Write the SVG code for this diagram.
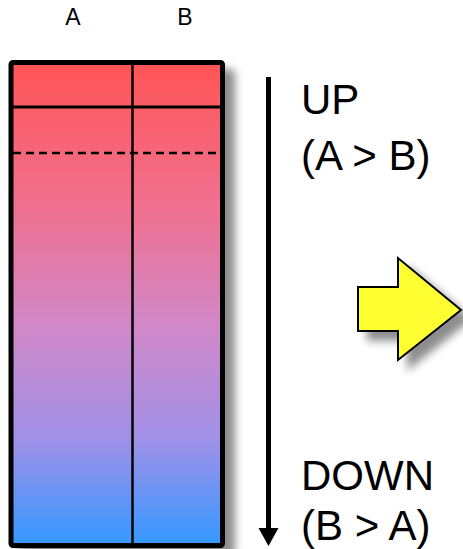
<svg xmlns="http://www.w3.org/2000/svg" width="463" height="549" viewBox="0 0 463 549">
  <defs>
    <linearGradient id="bar" x1="0" y1="0" x2="0" y2="1">
      <stop offset="0" stop-color="#FF5555"/>
      <stop offset="0.3" stop-color="#F07090"/>
      <stop offset="0.55" stop-color="#D088C8"/>
      <stop offset="0.78" stop-color="#A090E8"/>
      <stop offset="1" stop-color="#3399FF"/>
    </linearGradient>
    <filter id="shadow" x="-20%" y="-20%" width="150%" height="150%">
      <feGaussianBlur in="SourceAlpha" stdDeviation="4.5"/>
      <feOffset dx="10" dy="9" result="b"/>
      <feComponentTransfer><feFuncA type="linear" slope="0.45"/></feComponentTransfer>
      <feMerge><feMergeNode/><feMergeNode in="SourceGraphic"/></feMerge>
    </filter>
  </defs>
  <style>
    .lbl { font-family: "Liberation Sans", Arial, sans-serif; fill: #000; }
    .big { font-size: 42px; }
    .small { font-size: 23px; }
  </style>

  <g id="labels-top">
    <text class="lbl small" x="73" y="25" text-anchor="middle">A</text>
    <text class="lbl small" x="185" y="25" text-anchor="middle">B</text>
  </g>

  <g id="bar">
    <rect x="11" y="62.5" width="211.5" height="483" rx="2" fill="url(#bar)" stroke="#000" stroke-width="5" filter="url(#shadow)"/>
    <line x1="132.5" y1="63" x2="132.5" y2="545" stroke="#000" stroke-width="2.5"/>
    <line x1="12" y1="107" x2="222" y2="107" stroke="#000" stroke-width="3"/>
    <line x1="13" y1="153" x2="222" y2="153" stroke="#000" stroke-width="2.5" stroke-dasharray="8,5"/>
  </g>

  <g id="connectors">
    <line x1="268.5" y1="77" x2="268.5" y2="530" stroke="#000" stroke-width="5"/>
    <path d="M258.5,528 L278.5,528 L268.5,546 Z" fill="#000"/>
  </g>

  <g id="label-up">
    <text class="lbl big" x="301" y="114">UP</text>
    <text class="lbl big" x="301" y="170">(A &gt; B)</text>
  </g>

  <g id="label-down">
    <text class="lbl big" x="301" y="490">DOWN</text>
    <text class="lbl big" x="301" y="540">(B &gt; A)</text>
  </g>

  <g id="yellow-arrow">
    <polygon points="358,287 398,287 398,258 461,310 398,360 398,331 358,331" fill="#FFFF33" stroke="#000" stroke-width="2" stroke-linejoin="miter" filter="url(#shadow)"/>
  </g>
</svg>
